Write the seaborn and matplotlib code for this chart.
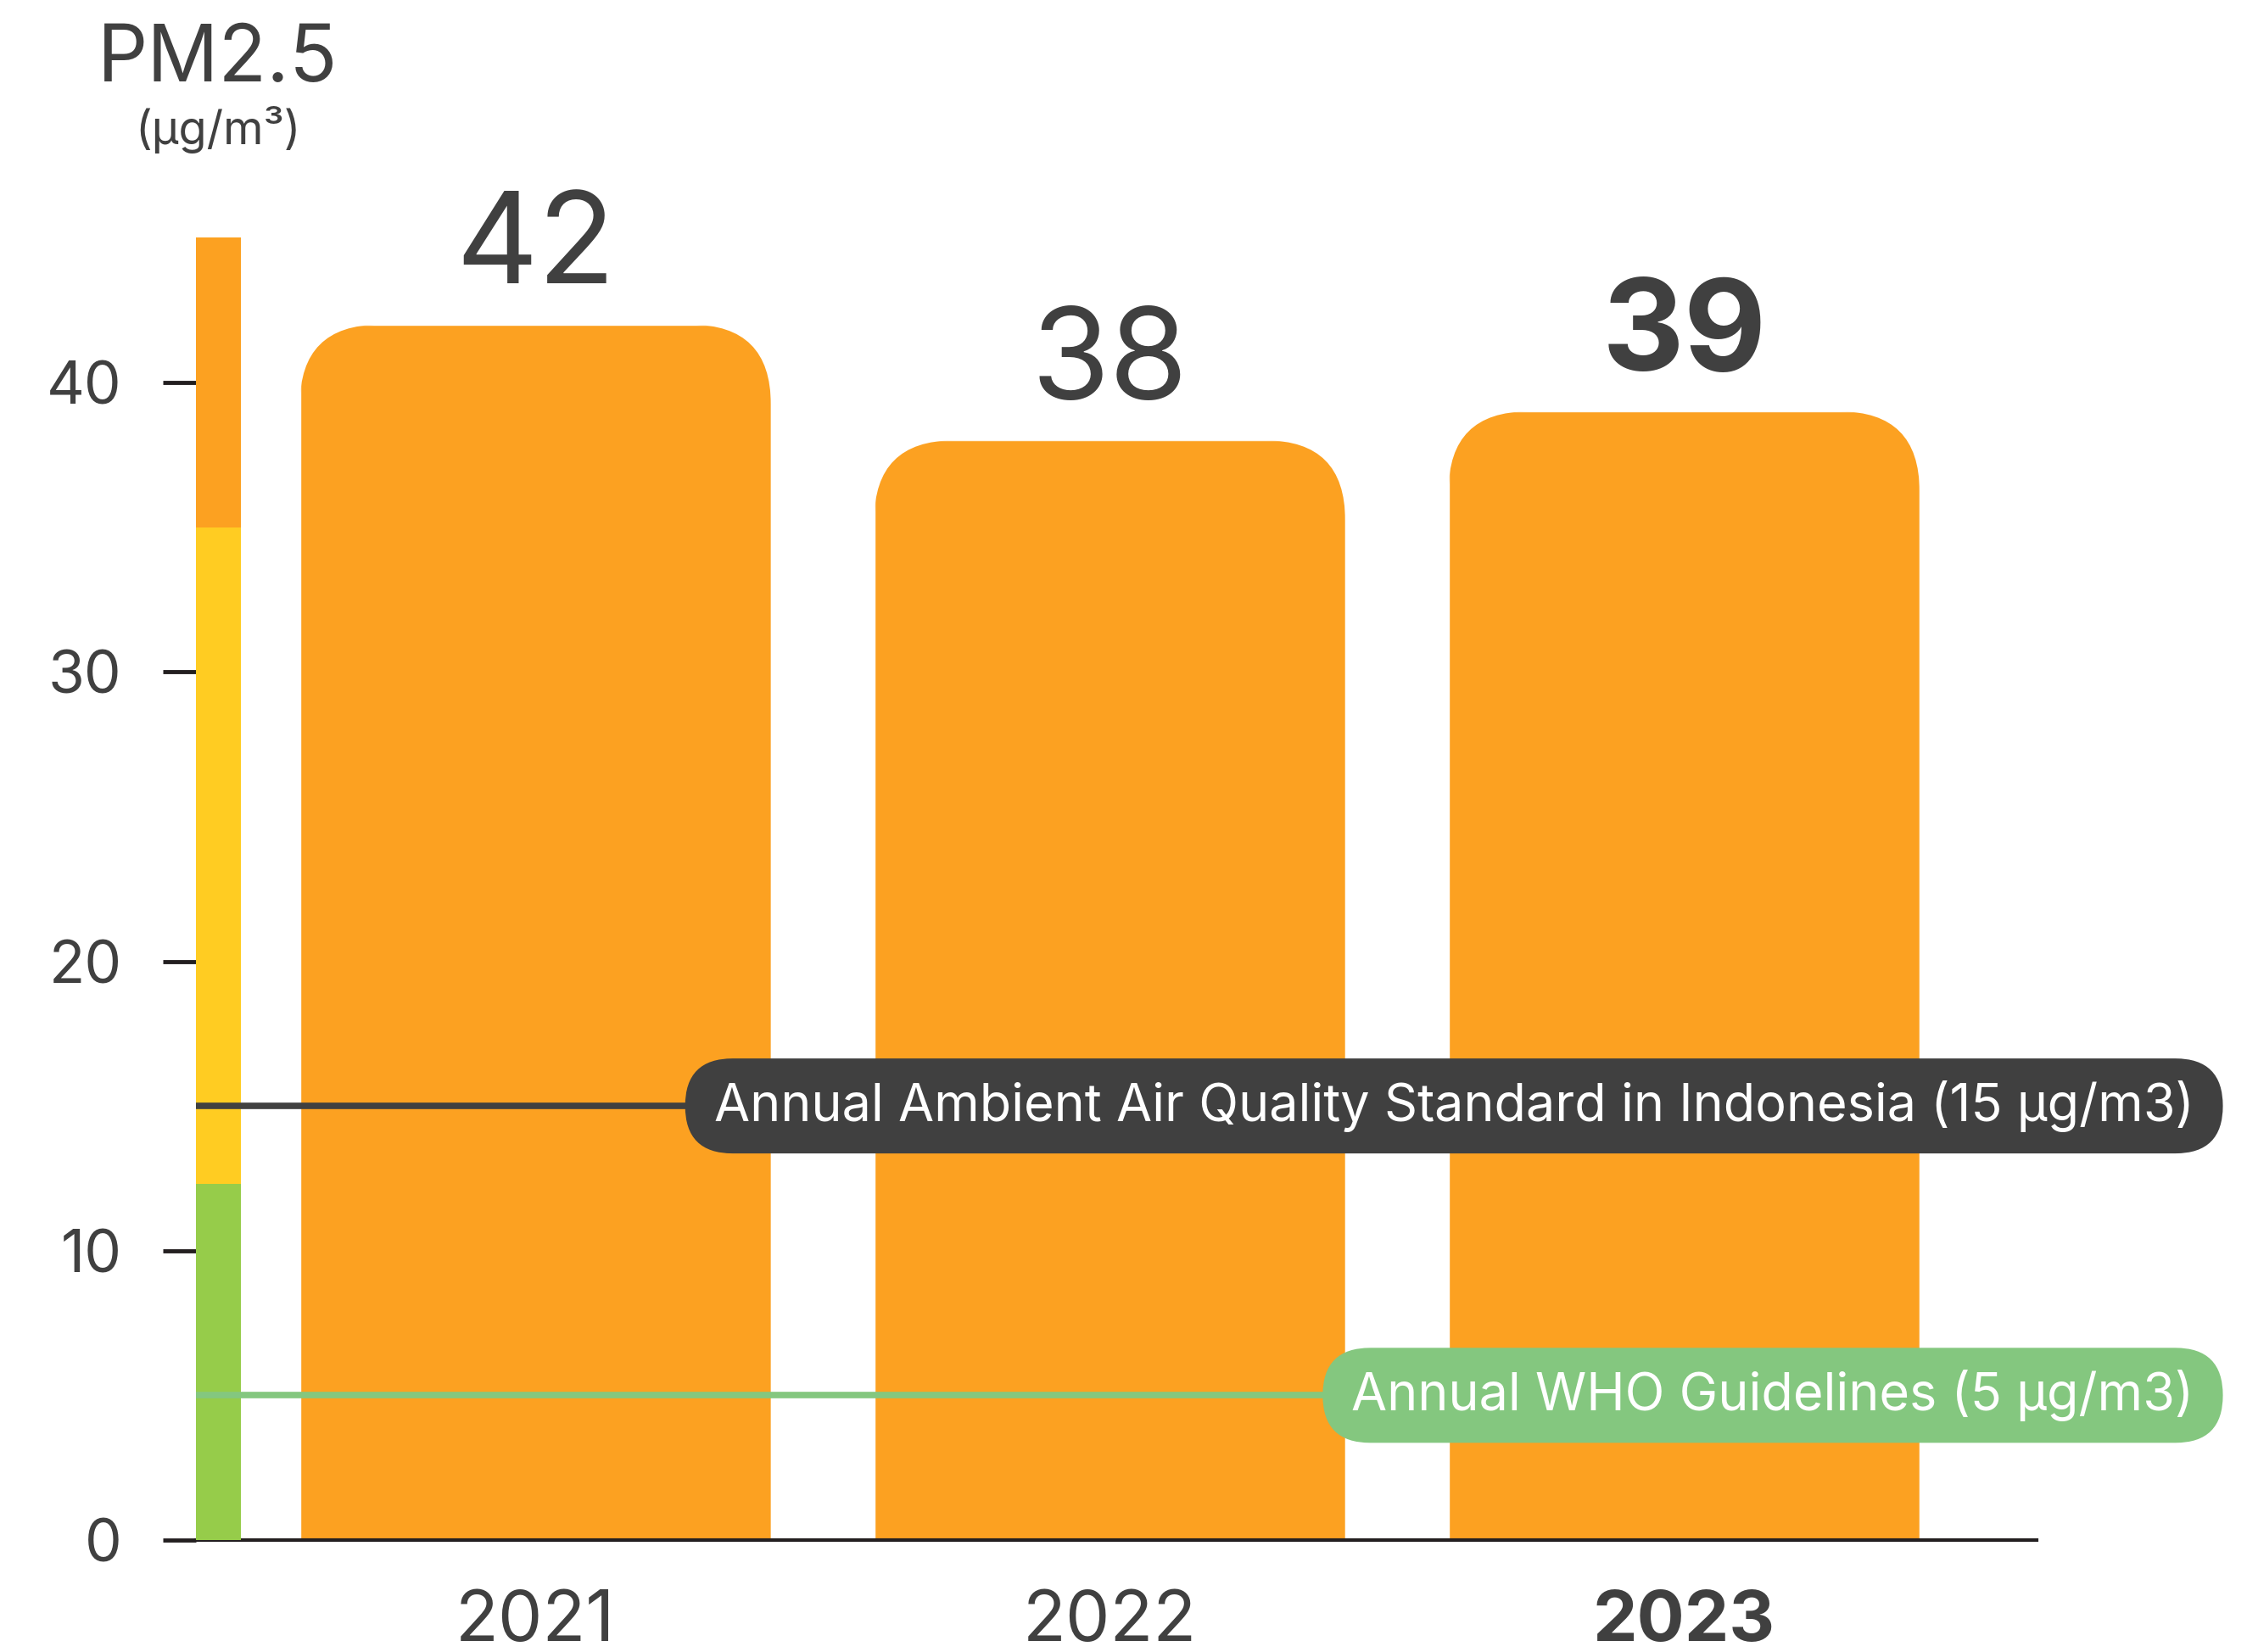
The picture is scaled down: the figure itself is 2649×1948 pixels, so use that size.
import matplotlib
matplotlib.use("Agg")
import matplotlib.pyplot as plt
import seaborn as sns
import pandas as pd
from matplotlib.patches import FancyBboxPatch
from matplotlib.transforms import IdentityTransform

# Annual mean PM2.5 (µg/m³)
years = ["2021", "2022", "2023"]
pm25 = [42, 38, 39]
highlight_year = "2023"

# Air-quality colour bands along the y axis
band_edges = [0, 12.3, 35, 45]
band_colors = ["#96CC4A", "#FFCC22", "#FCA121"]

# Reference limits
limit_values = [15, 5]
limit_labels = [
    "Annual Ambient Air Quality Standard in Indonesia (15 µg/m3)",
    "Annual WHO Guidelines (5 µg/m3)",
]
limit_colors = ["#404040", "#84C77F"]

y_ticks = [0, 10, 20, 30, 40]

BAR = "#FCA121"
TEXT = "#404040"
INK = "#231F20"

sns.set_theme(style="white")
plt.rcParams["font.family"] = ["Inter", "DejaVu Sans"]

fig = plt.figure(figsize=(26.49, 19.48), dpi=100)
ax = fig.add_axes([0.0872, 0.0678, 0.8192, 0.8758])

df = pd.DataFrame({"year": years, "pm25": pm25})
sns.barplot(data=df, x="year", y="pm25", color=BAR, saturation=1,
            width=0.82, ax=ax, zorder=2)

XMIN, XMAX = -0.591, 2.614
ax.set_xlim(XMIN, XMAX)
ax.set_ylim(0, 50)

# Rounded top corners for the bars (radius given in pixels)
ax_w_px = fig.get_figwidth() * fig.dpi * 0.8192
ax_h_px = fig.get_figheight() * fig.dpi * 0.8758
px_x = ax_w_px / (XMAX - XMIN)
px_y = ax_h_px / 50
r_px = 94
rx, ry = r_px / px_x, r_px / px_y
for bar in list(ax.patches):
    x0, w, h = bar.get_x(), bar.get_width(), bar.get_height()
    clip = FancyBboxPatch((x0, -ry), w, h + ry,
                          boxstyle=f"round,pad=0,rounding_size={rx}",
                          mutation_aspect=ry / rx, transform=ax.transData)
    bar.set_clip_path(clip)

# Colour band strip at the left edge
strip_x, strip_w = -0.552, 0.078
for lo, hi, c in zip(band_edges[:-1], band_edges[1:], band_colors):
    ax.bar(strip_x, hi - lo, bottom=lo, width=strip_w, color=c,
           linewidth=0, zorder=3)

# Value labels
for i, (yr, v) in enumerate(zip(years, pm25)):
    ax.annotate(f"{v}", (i, v), xytext=(0, 35), textcoords="offset points",
                ha="center", va="baseline", fontsize=108, color=TEXT,
                fontweight="bold" if yr == highlight_year else "normal")

# Axes styling
for s in ["left", "right", "top"]:
    ax.spines[s].set_visible(False)
ax.spines["bottom"].set_color(INK)
ax.spines["bottom"].set_linewidth(3)
ax.spines["bottom"].set_zorder(2.5)
ax.set_yticks(y_ticks)
ax.tick_params(axis="y", left=True, length=28, width=3.5, color=INK,
               pad=35, labelsize=50, labelcolor=TEXT)
ax.tick_params(axis="x", bottom=False, length=0, pad=42, labelsize=60,
               labelcolor=TEXT)
for lab in ax.get_xticklabels():
    if lab.get_text() == highlight_year:
        lab.set_fontweight("bold")
ax.set_xlabel("")
ax.set_ylabel("")

# Reference lines with pill labels
label_x = 2.888
label_texts = []
for val, lab, col in zip(limit_values, limit_labels, limit_colors):
    ax.hlines(val, XMIN, label_x, color=col, linewidth=5.5, zorder=4)
    t = ax.text(label_x, val, lab, ha="right", va="center", fontsize=44,
                color="white", zorder=6, clip_on=False)
    label_texts.append((t, val, col))

fig.text(0.097, 1 - 96 / 1948, "PM2.5", ha="center", va="baseline",
         fontsize=67, color=TEXT)
fig.text(0.097, 1 - 170 / 1948, "(µg/m³)", ha="center", va="baseline",
         fontsize=39, color=TEXT)

fig.canvas.draw()
renderer = fig.canvas.get_renderer()
pill_h, pad_x = 112, 34
for t, val, col in label_texts:
    bb = t.get_window_extent(renderer)
    cy = ax.transData.transform((0, val))[1]
    pill = FancyBboxPatch((bb.x0 - pad_x, cy - pill_h / 2),
                          bb.width + 2 * pad_x, pill_h,
                          boxstyle=f"round,pad=0,rounding_size={pill_h / 2}",
                          transform=IdentityTransform(), facecolor=col,
                          edgecolor="none", zorder=5, clip_on=False)
    ax.add_artist(pill)

fig.savefig("out.png", dpi=100)
